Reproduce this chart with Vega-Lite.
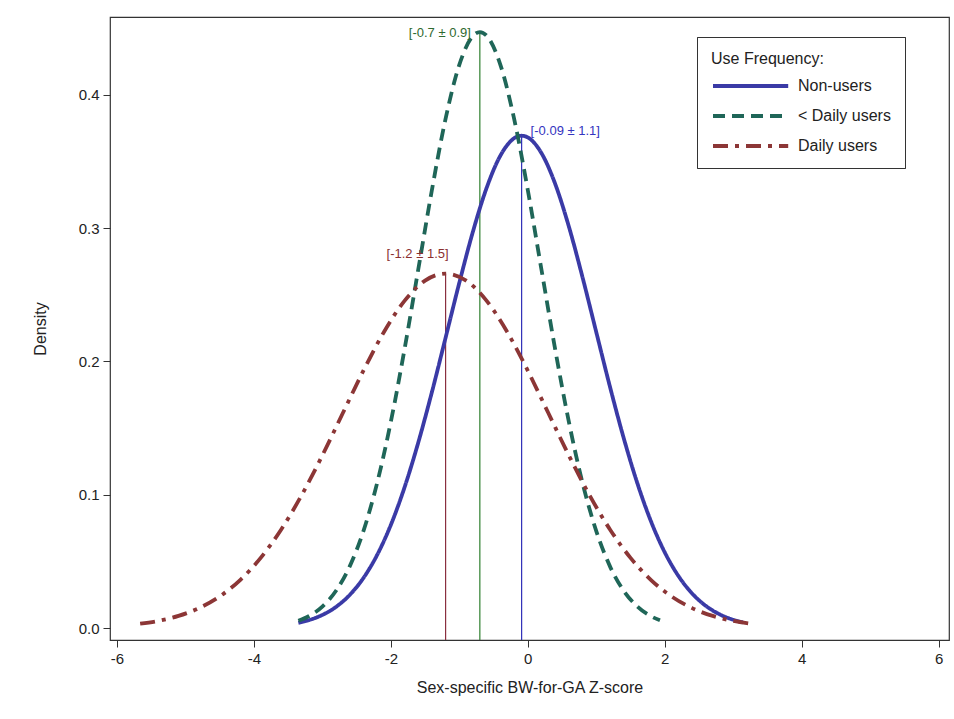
{
  "$schema": "https://vega.github.io/schema/vega-lite/v6.json",
  "width": 839,
  "height": 623,
  "autosize": {"type": "none"},
  "padding": {"left": 110, "top": 17, "right": 5, "bottom": 79},
  "background": "white",
  "config": {
    "view": {"stroke": "#333", "strokeWidth": 1.2},
    "font": "Liberation Sans"
  },
  "datasets": {
    "curves": [
      {"g": "Non-users", "x": -3.35, "d": 0.00388},
      {"g": "Non-users", "x": -3.2, "d": 0.00585},
      {"g": "Non-users", "x": -3.0, "d": 0.0098},
      {"g": "Non-users", "x": -2.8, "d": 0.01586},
      {"g": "Non-users", "x": -2.6, "d": 0.02481},
      {"g": "Non-users", "x": -2.4, "d": 0.03751},
      {"g": "Non-users", "x": -2.2, "d": 0.05479},
      {"g": "Non-users", "x": -2.0, "d": 0.07732},
      {"g": "Non-users", "x": -1.8, "d": 0.10547},
      {"g": "Non-users", "x": -1.6, "d": 0.13901},
      {"g": "Non-users", "x": -1.4, "d": 0.17702},
      {"g": "Non-users", "x": -1.2, "d": 0.21784},
      {"g": "Non-users", "x": -1.0, "d": 0.25901},
      {"g": "Non-users", "x": -0.8, "d": 0.29761},
      {"g": "Non-users", "x": -0.6, "d": 0.33043},
      {"g": "Non-users", "x": -0.4, "d": 0.35449},
      {"g": "Non-users", "x": -0.2, "d": 0.36749},
      {"g": "Non-users", "x": -0.09, "d": 0.3694},
      {"g": "Non-users", "x": 0.0, "d": 0.36812},
      {"g": "Non-users", "x": 0.2, "d": 0.35632},
      {"g": "Non-users", "x": 0.4, "d": 0.33328},
      {"g": "Non-users", "x": 0.6, "d": 0.3012},
      {"g": "Non-users", "x": 0.8, "d": 0.26304},
      {"g": "Non-users", "x": 1.0, "d": 0.22199},
      {"g": "Non-users", "x": 1.2, "d": 0.18102},
      {"g": "Non-users", "x": 1.4, "d": 0.14262},
      {"g": "Non-users", "x": 1.6, "d": 0.10859},
      {"g": "Non-users", "x": 1.8, "d": 0.07989},
      {"g": "Non-users", "x": 2.0, "d": 0.05679},
      {"g": "Non-users", "x": 2.2, "d": 0.03901},
      {"g": "Non-users", "x": 2.4, "d": 0.0259},
      {"g": "Non-users", "x": 2.6, "d": 0.01661},
      {"g": "Non-users", "x": 2.8, "d": 0.0103},
      {"g": "Non-users", "x": 3.0, "d": 0.00617},
      {"g": "Non-users", "x": 3.14, "d": 0.00422},
      {"g": "< Daily users", "x": -3.35, "d": 0.00542},
      {"g": "< Daily users", "x": -3.2, "d": 0.00881},
      {"g": "< Daily users", "x": -3.0, "d": 0.0161},
      {"g": "< Daily users", "x": -2.8, "d": 0.02799},
      {"g": "< Daily users", "x": -2.6, "d": 0.04627},
      {"g": "< Daily users", "x": -2.4, "d": 0.07274},
      {"g": "< Daily users", "x": -2.2, "d": 0.10875},
      {"g": "< Daily users", "x": -2.0, "d": 0.15463},
      {"g": "< Daily users", "x": -1.8, "d": 0.20907},
      {"g": "< Daily users", "x": -1.6, "d": 0.2688},
      {"g": "< Daily users", "x": -1.4, "d": 0.32868},
      {"g": "< Daily users", "x": -1.2, "d": 0.38219},
      {"g": "< Daily users", "x": -1.0, "d": 0.42263},
      {"g": "< Daily users", "x": -0.8, "d": 0.4444},
      {"g": "< Daily users", "x": -0.7, "d": 0.4472},
      {"g": "< Daily users", "x": -0.6, "d": 0.4444},
      {"g": "< Daily users", "x": -0.4, "d": 0.42263},
      {"g": "< Daily users", "x": -0.2, "d": 0.38219},
      {"g": "< Daily users", "x": 0.0, "d": 0.32868},
      {"g": "< Daily users", "x": 0.2, "d": 0.2688},
      {"g": "< Daily users", "x": 0.4, "d": 0.20907},
      {"g": "< Daily users", "x": 0.6, "d": 0.15463},
      {"g": "< Daily users", "x": 0.8, "d": 0.10875},
      {"g": "< Daily users", "x": 1.0, "d": 0.07274},
      {"g": "< Daily users", "x": 1.2, "d": 0.04627},
      {"g": "< Daily users", "x": 1.4, "d": 0.02799},
      {"g": "< Daily users", "x": 1.6, "d": 0.0161},
      {"g": "< Daily users", "x": 1.8, "d": 0.00881},
      {"g": "< Daily users", "x": 1.93, "d": 0.00579},
      {"g": "Daily users", "x": -5.66, "d": 0.0032},
      {"g": "Daily users", "x": -5.4, "d": 0.00528},
      {"g": "Daily users", "x": -5.1, "d": 0.00906},
      {"g": "Daily users", "x": -4.8, "d": 0.01493},
      {"g": "Daily users", "x": -4.5, "d": 0.02365},
      {"g": "Daily users", "x": -4.2, "d": 0.03599},
      {"g": "Daily users", "x": -3.9, "d": 0.05263},
      {"g": "Daily users", "x": -3.6, "d": 0.07395},
      {"g": "Daily users", "x": -3.3, "d": 0.09982},
      {"g": "Daily users", "x": -3.0, "d": 0.12946},
      {"g": "Daily users", "x": -2.7, "d": 0.16131},
      {"g": "Daily users", "x": -2.4, "d": 0.19313},
      {"g": "Daily users", "x": -2.1, "d": 0.22215},
      {"g": "Daily users", "x": -1.8, "d": 0.24551},
      {"g": "Daily users", "x": -1.5, "d": 0.26069},
      {"g": "Daily users", "x": -1.2, "d": 0.26596},
      {"g": "Daily users", "x": -0.9, "d": 0.26069},
      {"g": "Daily users", "x": -0.6, "d": 0.24551},
      {"g": "Daily users", "x": -0.3, "d": 0.22215},
      {"g": "Daily users", "x": 0.0, "d": 0.19313},
      {"g": "Daily users", "x": 0.3, "d": 0.16131},
      {"g": "Daily users", "x": 0.6, "d": 0.12946},
      {"g": "Daily users", "x": 0.9, "d": 0.09982},
      {"g": "Daily users", "x": 1.2, "d": 0.07395},
      {"g": "Daily users", "x": 1.5, "d": 0.05263},
      {"g": "Daily users", "x": 1.8, "d": 0.03599},
      {"g": "Daily users", "x": 2.1, "d": 0.02365},
      {"g": "Daily users", "x": 2.4, "d": 0.01493},
      {"g": "Daily users", "x": 2.7, "d": 0.00906},
      {"g": "Daily users", "x": 3.0, "d": 0.00528},
      {"g": "Daily users", "x": 3.24, "d": 0.00333}
    ],
    "peaks": [
      {"g": "Non-users", "mean": -0.09, "peak": 0.3694, "base": -0.009, "label": "[-0.09 ± 1.1]"},
      {"g": "< Daily users", "mean": -0.7, "peak": 0.4472, "base": -0.009, "label": "[-0.7 ± 0.9]"},
      {"g": "Daily users", "mean": -1.2, "peak": 0.26596, "base": -0.009, "label": "[-1.2 ± 1.5]"}
    ]
  },
  "resolve": {"scale": {"color": "independent", "stroke": "independent"}},
  "layer": [
    {
      "data": {"name": "peaks"},
      "mark": {"type": "rule", "strokeWidth": 1.2},
      "encoding": {
        "x": {"field": "mean", "type": "quantitative", "scale": {"domain": [-6.1, 6.15], "nice": false, "zero": false}},
        "y": {"field": "base", "type": "quantitative", "scale": {"domain": [-0.009, 0.4585], "nice": false, "zero": false}},
        "y2": {"field": "peak"},
        "stroke": {
          "field": "g", "type": "nominal",
          "scale": {"domain": ["Non-users", "< Daily users", "Daily users"], "range": ["#2f2fb8", "#2f7f2f", "#8a2f3f"]},
          "legend": null
        }
      }
    },
    {
      "data": {"name": "curves"},
      "mark": {"type": "line", "strokeWidth": 3.8, "interpolate": "monotone"},
      "encoding": {
        "x": {
          "field": "x", "type": "quantitative",
          "scale": {"domain": [-6.1, 6.15], "nice": false, "zero": false},
          "axis": {
            "title": "Sex-specific BW-for-GA Z-score",
            "values": [-6, -4, -2, 0, 2, 4, 6],
            "labelExpr": "'' + datum.value",
            "grid": false, "domain": false,
            "tickColor": "#333", "tickSize": 7,
            "labelFontSize": 15, "labelColor": "#222", "labelPadding": 4,
            "titleFontSize": 16, "titleFontWeight": "normal", "titleColor": "#222", "titlePadding": 13
          }
        },
        "y": {
          "field": "d", "type": "quantitative",
          "scale": {"domain": [-0.009, 0.4585], "nice": false, "zero": false},
          "axis": {
            "title": "Density",
            "values": [0, 0.1, 0.2, 0.3, 0.4], "format": ".1f",
            "grid": false, "domain": false,
            "tickColor": "#333", "tickSize": 7,
            "labelFontSize": 15, "labelColor": "#222", "labelPadding": 4,
            "titleFontSize": 16, "titleFontWeight": "normal", "titleColor": "#222", "titlePadding": 30
          }
        },
        "color": {
          "field": "g", "type": "nominal",
          "scale": {"domain": ["Non-users", "< Daily users", "Daily users"], "range": ["#3a3aa6", "#1f6658", "#8c3636"]},
          "legend": {
            "title": "Use Frequency:",
            "orient": "none", "legendX": 587, "legendY": 20,
            "symbolType": "M-1,0H8.4", "symbolSize": 256, "symbolStrokeWidth": 4,
            "labelOffset": 67,
            "strokeColor": "#333", "fillColor": "white", "padding": 14,
            "titleFontSize": 16, "titleFontWeight": "normal", "titleColor": "#222", "titlePadding": 9,
            "labelFontSize": 16, "labelColor": "#222", "rowPadding": 12,
            "labelLimit": 300,
            "encode": {"symbols": {"update": {"strokeDash": {"scale": "strokeDash", "field": "value"}}}}
          }
        },
        "strokeDash": {
          "field": "g", "type": "nominal",
          "scale": {"domain": ["Non-users", "< Daily users", "Daily users"], "range": [[1, 0], [12, 7], [15, 7, 4, 7]]},
          "legend": {
            "title": "Use Frequency:",
            "orient": "none", "legendX": 587, "legendY": 20,
            "symbolType": "M-1,0H8.4", "symbolSize": 256, "symbolStrokeWidth": 4,
            "labelOffset": 67,
            "strokeColor": "#333", "fillColor": "white", "padding": 14,
            "titleFontSize": 16, "titleFontWeight": "normal", "titleColor": "#222", "titlePadding": 9,
            "labelFontSize": 16, "labelColor": "#222", "rowPadding": 12,
            "labelLimit": 300,
            "encode": {"symbols": {"update": {"strokeDash": {"scale": "strokeDash", "field": "value"}}}}
          }
        },
        "detail": {"field": "g"}
      }
    },
    {
      "data": {"name": "peaks"},
      "transform": [{"filter": "datum.g === '< Daily users'"}],
      "mark": {"type": "text", "align": "right", "baseline": "middle", "dx": -9, "dy": 1, "fontSize": 13, "color": "#2f6a2f"},
      "encoding": {
        "x": {"field": "mean", "type": "quantitative"},
        "y": {"field": "peak", "type": "quantitative"},
        "text": {"field": "label"}
      }
    },
    {
      "data": {"name": "peaks"},
      "transform": [{"filter": "datum.g === 'Non-users'"}],
      "mark": {"type": "text", "align": "left", "baseline": "middle", "dx": 9, "dy": -5, "fontSize": 13, "color": "#3434c0"},
      "encoding": {
        "x": {"field": "mean", "type": "quantitative"},
        "y": {"field": "peak", "type": "quantitative"},
        "text": {"field": "label"}
      }
    },
    {
      "data": {"name": "peaks"},
      "transform": [{"filter": "datum.g === 'Daily users'"}],
      "mark": {"type": "text", "align": "center", "baseline": "middle", "dx": -28, "dy": -20, "fontSize": 13, "color": "#8a3030"},
      "encoding": {
        "x": {"field": "mean", "type": "quantitative"},
        "y": {"field": "peak", "type": "quantitative"},
        "text": {"field": "label"}
      }
    }
  ]
}
